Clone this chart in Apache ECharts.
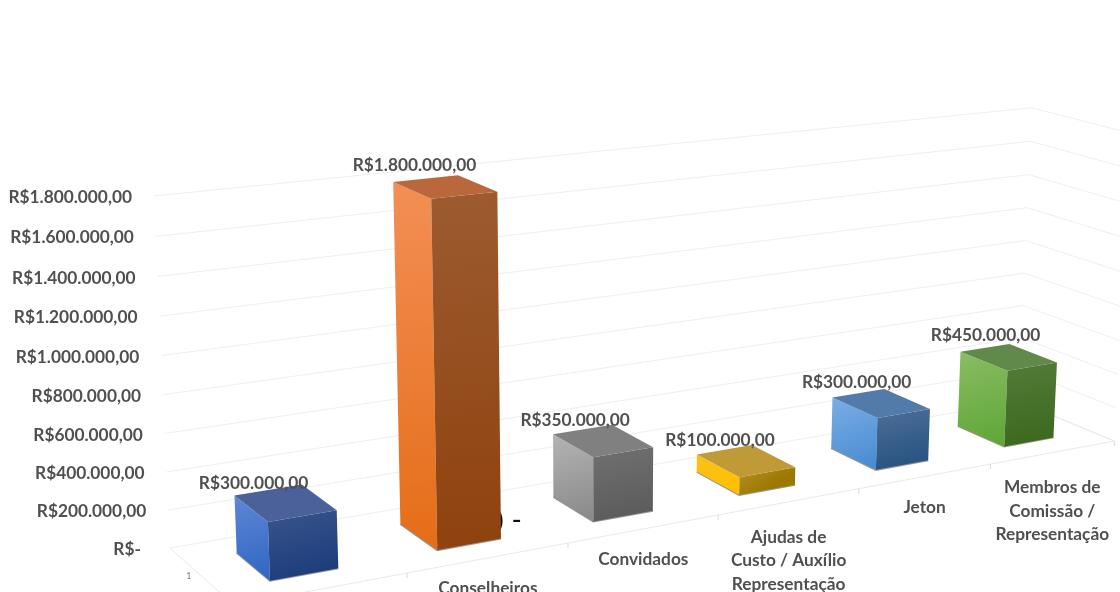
<!DOCTYPE html>
<html>
<head>
<meta charset="utf-8">
<script src="https://cdn.jsdelivr.net/npm/echarts@6/dist/echarts.min.js"></script>
<style>
  html, body { margin: 0; padding: 0; background: #fff; }
  #chart { width: 1120px; height: 592px; filter: blur(0.5px); }
</style>
</head>
<body>
<div id="chart"></div>
<script>
const categories = ['', 'Conselheiros', 'Convidados', 'Ajudas de\nCusto / Auxílio\nRepresentação', 'Jeton', 'Membros de\nComissão /\nRepresentação'];
const values = [300000, 1800000, 350000, 100000, 300000, 450000];
const yTicks = [0, 200000, 400000, 600000, 800000, 1000000, 1200000, 1400000, 1600000, 1800000];
const yTickLabels = ['R$-', 'R$200.000,00', 'R$400.000,00', 'R$600.000,00', 'R$800.000,00', 'R$1.000.000,00', 'R$1.200.000,00', 'R$1.400.000,00', 'R$1.600.000,00', 'R$1.800.000,00'];
const seriesName = '1';
const strayText = ') -';

// left face top/bottom, front face top/bottom, top face
const barColors = [
  ['#5f87d6', '#3067c2', '#3a558c', '#1d3d7c', '#4a6299'],
  ['#f38f55', '#e56d18', '#9c5b30', '#8f420e', '#b9673b'],
  ['#b4b4b4', '#8a8a8a', '#707070', '#5c5c5c', '#808080'],
  ['#f8c21a', '#ffc000', '#b8922a', '#9c7800', '#bf9a37'],
  ['#7aaee5', '#4a8dd3', '#4d6f98', '#285382', '#527ba9'],
  ['#8abd63', '#60a738', '#537b39', '#3c691e', '#618a4a']
];

const LABEL_FONT = '700 17.3px Lato';
const TEXT_COLOR = '#505050';
const GRID_COLOR = '#efefef';
const FRONT_Z = 0.25;
const BACK_Z = 0.75;

// perspective of the excel 3d box: X = 0..6 along categories, Y = 0..1 value, Z = 0 front, 1 back wall
const project = (X, Y, Z) => {
  const w = 1 + 0.037 * X - 0.038 * Y + 0.0615 * Z;
  return [
    (234.2 + 187.9 * X - 22.8 * Y - 53.8 * Z) / w,
    (605.3 - 11.06 * X - 381.1 * Y - 23.6 * Z) / w
  ];
};

// grid pixel -> screen, the flat grid only supplies the scales
const toScreen = (sys, px, py, Z) => {
  const X = (px - sys.x) / sys.width * categories.length;
  const Y = (sys.y + sys.height - py) / sys.height;
  return project(X, Y, Z);
};

const face = (points, c0, c1, x2, y2) => ({
  type: 'polygon',
  shape: { points },
  style: {
    fill: new echarts.graphic.LinearGradient(0, 0, x2, y2, [
      { offset: 0, color: c0 },
      { offset: 1, color: c1 }
    ])
  }
});

const renderWall = (params, api) => {
  const sys = params.coordSys;
  const tick = api.value(1);
  const py = api.coord([0, tick])[1];
  const right = sys.x + sys.width;
  const start = toScreen(sys, sys.x, py, 1);
  return {
    type: 'group',
    children: [
      {
        type: 'polyline',
        shape: { points: [start, toScreen(sys, right, py, 1), toScreen(sys, right, py, 0)] },
        style: { stroke: GRID_COLOR, lineWidth: 1, fill: 'none' }
      },
      {
        type: 'text',
        style: {
          text: yTickLabels[params.dataIndex],
          x: start[0] - (tick === 0 ? 29 : 22),
          y: start[1] + 1.5,
          align: 'right',
          verticalAlign: 'middle',
          font: LABEL_FONT,
          fill: TEXT_COLOR
        }
      }
    ]
  };
};

const renderFloor = (params, api) => {
  const sys = params.coordSys;
  const base = api.coord([0, 0])[1];
  const right = sys.x + sys.width;
  const backLeft = toScreen(sys, sys.x, base, 1);
  const corner = toScreen(sys, sys.x, base, 0);
  const line = (a, b) => ({
    type: 'line',
    shape: { x1: a[0], y1: a[1], x2: b[0], y2: b[1] },
    style: { stroke: '#e9e9e9', lineWidth: 1 }
  });
  return {
    type: 'group',
    children: [
      line(backLeft, corner),
      line(corner, toScreen(sys, right, base, 0)),
      line(toScreen(sys, right, base, 1), toScreen(sys, right, base, 0)),
      {
        type: 'text',
        style: {
          text: seriesName,
          x: backLeft[0] + 19,
          y: backLeft[1] + 28,
          align: 'center',
          verticalAlign: 'middle',
          font: '9px Lato',
          fill: '#7f7f7f'
        }
      }
    ]
  };
};

const renderCategory = (params, api) => {
  const sys = params.coordSys;
  const i = params.dataIndex;
  const c = api.coord([i, 0]);
  const band = api.size([1, 0])[0];
  const tick = toScreen(sys, c[0] + band / 2, c[1], 0);
  const mid = toScreen(sys, c[0], c[1], 0);
  const lines = categories[i].split('\n').length;
  return {
    type: 'group',
    children: [
      {
        type: 'line',
        shape: { x1: tick[0], y1: tick[1], x2: tick[0], y2: tick[1] + 5 },
        style: { stroke: '#d9d9d9', lineWidth: 1 }
      },
      {
        type: 'text',
        style: {
          text: categories[i],
          x: mid[0] - 1,
          y: mid[1] + 17 + 14 * lines,
          align: 'center',
          verticalAlign: 'middle',
          lineHeight: 23.5,
          font: LABEL_FONT,
          fill: TEXT_COLOR
        }
      }
    ]
  };
};

const renderBar = (params, api) => {
  const sys = params.coordSys;
  const i = params.dataIndex;
  const top = api.coord([i, api.value(1)]);
  const base = api.coord([i, 0]);
  const band = api.size([1, 0])[0];
  const x1 = top[0] - band * 0.2;
  const x2 = top[0] + band * 0.2;
  const colors = barColors[i];

  const topFL = toScreen(sys, x1, top[1], FRONT_Z);
  const topFR = toScreen(sys, x2, top[1], FRONT_Z);
  const topBL = toScreen(sys, x1, top[1], BACK_Z);
  const topBR = toScreen(sys, x2, top[1], BACK_Z);
  const botFL = toScreen(sys, x1, base[1], FRONT_Z);
  const botFR = toScreen(sys, x2, base[1], FRONT_Z);
  const botBL = toScreen(sys, x1, base[1], BACK_Z);
  const labelAt = toScreen(sys, x1 + band * 0.015, top[1], 0.5);

  return {
    type: 'group',
    children: [
      {
        type: 'polyline',
        shape: { points: [botBL, botFL, botFR] },
        style: { stroke: 'rgba(70, 60, 50, 0.55)', lineWidth: 2, fill: 'none' }
      },
      face([topBL, topFL, botFL, botBL], colors[0], colors[1], 0.6, 1),
      face([topFL, topFR, botFR, botFL], colors[2], colors[3], 0.3, 1),
      { type: 'polygon', shape: { points: [topBL, topBR, topFR, topFL] }, style: { fill: colors[4] } },
      {
        type: 'text',
        style: {
          text: 'R$' + api.value(1).toLocaleString('de-DE') + ',00',
          x: labelAt[0],
          y: labelAt[1] - 25,
          align: 'center',
          verticalAlign: 'middle',
          font: LABEL_FONT,
          fill: TEXT_COLOR
        }
      }
    ]
  };
};

const initChart = () => {
  const chart = echarts.init(document.getElementById('chart'));
  const option = {
    animation: false,
    backgroundColor: '#fff',
    grid: { left: 0, right: 0, top: 0, bottom: 0 },
    xAxis: { type: 'category', data: categories, show: false },
    yAxis: { type: 'value', min: 0, max: 1800000, interval: 200000, show: false },
    graphic: [
      {
        type: 'text',
        z: 2,
        style: { text: strayText, x: 495, y: 506, font: '28px "Liberation Sans"', fill: '#111' }
      }
    ],
    series: [
      { name: 'wall', type: 'custom', z: 1, renderItem: renderWall, data: yTicks.map(t => [0, t]) },
      { name: 'floor', type: 'custom', z: 1, renderItem: renderFloor, data: [[0, 0]] },
      { name: 'categorias', type: 'custom', z: 1, renderItem: renderCategory, data: categories.map((c, i) => [i, 0]) },
      { name: seriesName, type: 'custom', z: 3, renderItem: renderBar, data: values.map((v, i) => [i, v]) }
    ]
  };
  chart.setOption(option);
};

initChart();
</script>
</body>
</html>
